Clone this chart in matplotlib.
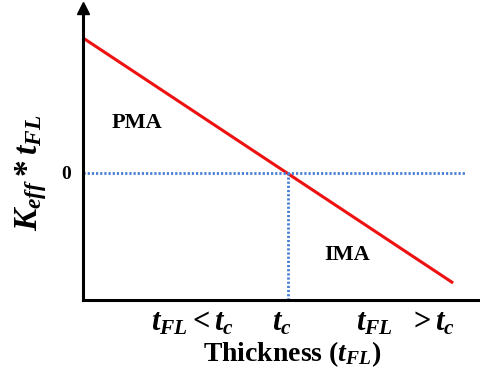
import matplotlib
matplotlib.use("Agg")
import matplotlib.pyplot as plt

plt.rcParams['font.family'] = ['Liberation Serif', 'DejaVu Serif']
plt.rcParams['font.weight'] = 'bold'
plt.rcParams['mathtext.fontset'] = 'custom'
plt.rcParams['mathtext.rm'] = 'Liberation Serif:bold'
plt.rcParams['mathtext.it'] = 'Liberation Serif:bold:italic'
plt.rcParams['mathtext.bf'] = 'Liberation Serif:bold'

# data
line_x = [0, 9.3]
line_y = [1.35, -1.10]
t_c = 5.15
zero_x = [0, 9.6]
tick_pos = [2.75, 5.0, 8.1]
tick_labels = [r'$t_{FL} < t_c$', r'$t_c$', r'$t_{FL}\ \ > t_c$']

fig = plt.figure(figsize=(4.81, 3.73), dpi=100)
ax = fig.add_axes([0.1726, 0.1957, 0.8274, 0.783])
ax.set_xlim(0, 10)
ax.set_ylim(-1.27, 1.65)

ax.plot(line_x, line_y, color='#ee1111', lw=2.2, solid_capstyle='butt')
ax.plot(zero_x, [0, 0], color='#4a7fd6', lw=2.0, ls=(0, (0.8, 0.7)))
ax.plot([t_c, t_c], [-1.27, 0], color='#4a7fd6', lw=2.0, ls=(0, (0.8, 0.7)))

ax.text(1.36, 0.5, 'PMA', fontsize=16, fontweight='bold', ha='center', va='center')
ax.text(6.63, -0.82, 'IMA', fontsize=16, fontweight='bold', ha='center', va='center')

for s in ['top', 'right']:
    ax.spines[s].set_visible(False)
for s in ['left', 'bottom']:
    ax.spines[s].set_linewidth(2.2)
    ax.spines[s].set_color('black')
ax.plot(0, 1, marker='^', color='black', markersize=8,
        transform=ax.transAxes, clip_on=False)

ax.set_yticks([0])
ax.set_yticklabels(['0'], fontsize=14, fontweight='bold')
ax.set_xticks(tick_pos)
ax.set_xticklabels(tick_labels, fontsize=22)
ax.tick_params(axis='x', length=0, pad=6)
ax.tick_params(axis='y', length=0, pad=9)
ax.set_xlabel(r'Thickness ($t_{FL}$)', fontsize=20, fontweight='bold')
ax.xaxis.set_label_coords(0.525, -0.135)
ax.set_ylabel(r'$K_{eff} * t_{FL}$', fontsize=24)
ax.yaxis.set_label_coords(-0.085, 0.435)

fig.savefig('out.png', dpi=100)
